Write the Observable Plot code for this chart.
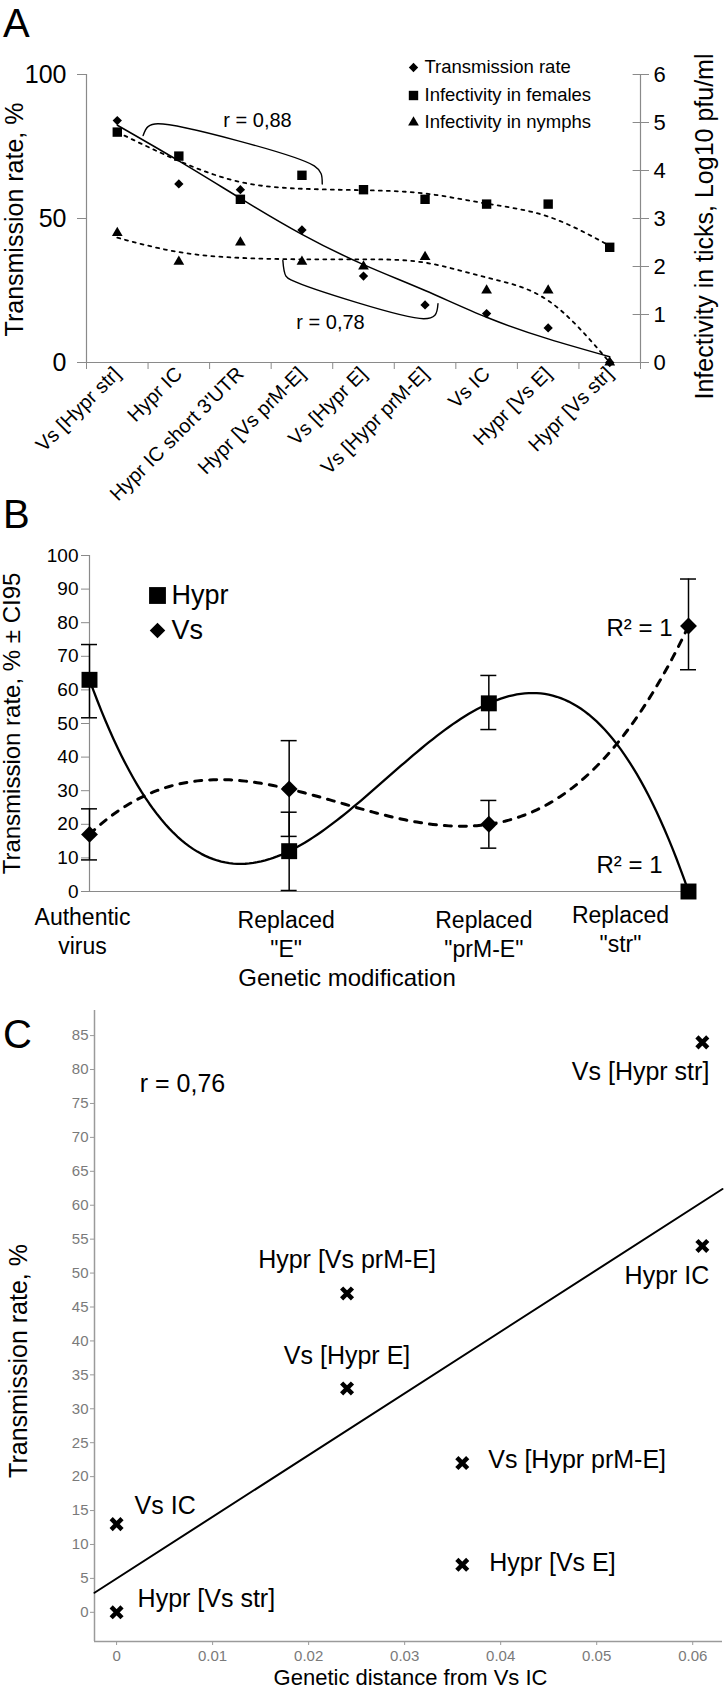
<!DOCTYPE html>
<html>
<head>
<meta charset="utf-8">
<script src="https://cdn.jsdelivr.net/npm/d3@7"></script>
<script src="https://cdn.jsdelivr.net/npm/@observablehq/plot@0.6"></script>
<style>
  html, body { margin: 0; padding: 0; background: #fff; }
  #wrap { position: relative; width: 727px; height: 1700px; background: #fff; overflow: hidden; }
  .panel { position: absolute; left: 0; }
  #letters { position: absolute; left: 0; top: 0; }
</style>
</head>
<body>
<div id="wrap">
  <div class="panel" id="pA" style="top:0px"></div>
  <div class="panel" id="pB" style="top:490px"></div>
  <div class="panel" id="pC" style="top:990px"></div>
  <svg id="letters" width="727" height="1700"></svg>
</div>
<script>
// ---------------- DATA ----------------
// Panel A
const strainsA = ["Vs [Hypr str]", "Hypr IC", "Hypr IC short 3'UTR", "Hypr [Vs prM-E]", "Vs [Hypr E]", "Vs [Hypr prM-E]", "Vs IC", "Hypr [Vs E]", "Hypr [Vs str]"];
const transmissionA = [84, 62, 60, 46, 30, 20, 17, 12, 0];          // %, left axis
const femalesA = [4.8, 4.3, 3.4, 3.9, 3.6, 3.4, 3.3, 3.3, 2.4];      // log10 pfu/ml, right axis
const nymphsA = [2.7, 2.1, 2.5, 2.1, 2.0, 2.2, 1.5, 1.5, 0];         // log10 pfu/ml, right axis
const transmissionTrendA = [82.4, 70, 57, 44.5, 34, 25, 15.7, 8.2, 2];
const femalesTrendA = [4.8, 4.2, 3.76, 3.62, 3.59, 3.52, 3.31, 3.04, 2.43];
const nymphsTrendA = [2.6, 2.3, 2.18, 2.15, 2.15, 2.08, 1.77, 1.29, 0];
const leftTicksA = [0, 50, 100];
const rightTicksA = [0, 1, 2, 3, 4, 5, 6];
const legendA = ["Transmission rate", "Infectivity in females", "Infectivity in nymphs"];
const rLabelsA = ["r = 0,88", "r = 0,78"];
// bracket outlines (x = category position, y = %)
const bracket88 = [[1.42, 78.8], [1.5, 81.9], [1.66, 82.9], [4.2, 68.3], [4.31, 65.6], [4.33, 62]];
const bracket78 = [[3.69, 35.4], [3.74, 30], [3.84, 28.5], [5.98, 15.2], [6.16, 16.4], [6.21, 20.4]];

// Panel B
const modificationsB = ["Authentic\nvirus", "Replaced\n\"E\"", "Replaced\n\"prM-E\"", "Replaced\n\"str\""];
const hyprB = [63, 12, 56, 0];
const hyprLowB = [51.7, 0.3, 48.2, 0];
const hyprHighB = [73.5, 23.6, 64.3, 0];
const vsB = [17, 30.5, 20, 79];
const vsLowB = [9.4, 16.4, 12.9, 66];
const vsHighB = [24.6, 44.9, 27.1, 93];
const yTicksB = [0, 10, 20, 30, 40, 50, 60, 70, 80, 90, 100];
const seriesB = ["Hypr", "Vs"];

// Panel C
const strainsC = ["Vs [Hypr str]", "Hypr IC", "Hypr [Vs prM-E]", "Vs [Hypr E]", "Vs [Hypr prM-E]", "Hypr [Vs E]", "Vs IC", "Hypr [Vs str]"];
const distanceC = [0.061, 0.061, 0.024, 0.024, 0.036, 0.036, 0, 0];
const rateC = [84, 54, 47, 33, 22, 7, 13, 0];
const yTicksC = [0, 5, 10, 15, 20, 25, 30, 35, 40, 45, 50, 55, 60, 65, 70, 75, 80, 85];
const xTicksC = [0, 0.01, 0.02, 0.03, 0.04, 0.05, 0.06];

// ---------------- LAYOUT ----------------
const FONT = '"Liberation Sans", Arial, Helvetica, sans-serif';
const AX = "#8a8a8a";

// ---------------- PANEL A ----------------
const nA = strainsA.length;
const kA = 100 / rightTicksA[rightTicksA.length - 1];
const rowsA = strainsA.map((name, j) => ({
  i: j + 1, name,
  t: transmissionA[j], f: femalesA[j] * kA, n: nymphsA[j] * kA,
  tt: transmissionTrendA[j], ft: femalesTrendA[j] * kA, nt: nymphsTrendA[j] * kA
}));
const edgesA = d3.range(nA + 1).map(j => j + 0.5);
const legendSymA = ["diamond2", "square", "triangle"];
const legendRA = [4.2, 5.3, 4];
const legendDyA = [-7, 21, 48];

const plotA = Plot.plot({
  width: 727, height: 490,
  marginLeft: 86, marginRight: 87, marginTop: 74, marginBottom: 128,
  x: {domain: [0.5, nA + 0.5], axis: null},
  y: {domain: [0, 100], axis: null},
  style: {fontFamily: FONT, background: "transparent", overflow: "visible", color: "#000"},
  marks: [
    Plot.ruleY([0], {x1: 0.5, x2: nA + 0.5, stroke: AX, strokeWidth: 1.2}),
    Plot.ruleX([0.5, nA + 0.5], {y1: 0, y2: 100, stroke: AX, strokeWidth: 1.2}),
    Plot.axisX({ticks: edgesA, tickFormat: () => "", tickSize: 7, stroke: AX, label: null}),
    Plot.axisX({ticks: rowsA.map(d => d.i), tickFormat: i => strainsA[i - 1], tickSize: 0, tickRotate: -45, tickPadding: 8, fontSize: 20, label: null}),
    Plot.axisY({ticks: leftTicksA, tickSize: 9, tickPadding: 11, fontSize: 25, stroke: AX, label: null}),
    Plot.axisY({anchor: "right", ticks: rightTicksA.map(v => v * kA), tickFormat: v => String(Math.round(v / kA)), tickSize: 8, tickPadding: 5, fontSize: 22, stroke: AX, label: null}),
    Plot.ruleY(rightTicksA.map(v => v * kA), {x1: nA + 0.5 - 0.12, x2: nA + 0.5, stroke: AX}),
    // trend lines
    Plot.line(rowsA, {x: "i", y: "ft", curve: "natural", stroke: "#000", strokeWidth: 1.8, strokeDasharray: "3,5"}),
    Plot.line(rowsA, {x: "i", y: "nt", curve: "natural", stroke: "#000", strokeWidth: 1.8, strokeDasharray: "3,5"}),
    Plot.line(rowsA, {x: "i", y: "tt", curve: "natural", stroke: "#000", strokeWidth: 1.5}),
    // brackets
    Plot.line(bracket88, {x: d => d[0], y: d => d[1], curve: "catmull-rom", stroke: "#000", strokeWidth: 1.4}),
    Plot.line(bracket78, {x: d => d[0], y: d => d[1], curve: "catmull-rom", stroke: "#000", strokeWidth: 1.4}),
    Plot.text([rLabelsA[0]], {frameAnchor: "top-left", textAnchor: "middle", lineAnchor: "middle", dx: 171, dy: 46, fontSize: 20}),
    Plot.text([rLabelsA[1]], {frameAnchor: "top-left", textAnchor: "middle", lineAnchor: "middle", dx: 244, dy: 248, fontSize: 20}),
    // points
    Plot.dot(rowsA, {x: "i", y: "f", symbol: "square", r: 5.3, fill: "#000"}),
    Plot.dot(rowsA, {x: "i", y: "n", symbol: "triangle", r: 4, fill: "#000"}),
    Plot.dot(rowsA, {x: "i", y: "t", symbol: "diamond2", r: 4.2, fill: "#000"}),
    // axis titles
    Plot.text(["Transmission rate, %"], {frameAnchor: "left", textAnchor: "middle", lineAnchor: "middle", rotate: -90, dx: -72, dy: 1, fontSize: 25}),
    Plot.text(["Infectivity in ticks, Log10 pfu/ml"], {frameAnchor: "right", textAnchor: "middle", lineAnchor: "middle", rotate: -90, dx: 64, dy: 8, fontSize: 25}),
    // legend
    ...legendA.map((lab, j) => Plot.dot([lab], {frameAnchor: "top-left", dx: 327, dy: legendDyA[j], symbol: legendSymA[j], r: legendRA[j], fill: "#000"})),
    ...legendA.map((lab, j) => Plot.text([lab], {frameAnchor: "top-left", dx: 338, dy: legendDyA[j], textAnchor: "start", lineAnchor: "middle", fontSize: 18.5}))
  ]
});
document.getElementById("pA").appendChild(plotA);

// ---------------- PANEL B ----------------
const xsB = modificationsB.map((_, j) => j);
function lagrange(xs, ys, x) {
  let s = 0;
  for (let a = 0; a < xs.length; a++) {
    let p = ys[a];
    for (let b = 0; b < xs.length; b++) if (b !== a) p *= (x - xs[b]) / (xs[a] - xs[b]);
    s += p;
  }
  return s;
}
const fitB = ys => d3.range(0, xsB.length - 1 + 1e-9, 0.02).map(x => ({x, y: lagrange(xsB, ys, x)}));
const hyprRows = xsB.map(j => ({x: j, y: hyprB[j], lo: hyprLowB[j], hi: hyprHighB[j]}));
const vsRows = xsB.map(j => ({x: j, y: vsB[j], lo: vsLowB[j], hi: vsHighB[j]}));
const errRows = hyprRows.concat(vsRows).filter(d => d.hi > d.lo);
const catDxB = [-7, -3, -5, -68];
const catDyB = [39, 42, 42, 37];

const plotB = Plot.plot({
  width: 727, height: 500,
  marginLeft: 89, marginRight: 39, marginTop: 65, marginBottom: 99,
  x: {domain: [0, xsB.length - 1], axis: null},
  y: {domain: [0, 100], axis: null},
  style: {fontFamily: FONT, background: "transparent", overflow: "visible", color: "#000"},
  marks: [
    Plot.ruleY([0], {x1: 0, x2: xsB.length - 1, stroke: AX, strokeWidth: 1.2}),
    Plot.ruleX([0], {y1: 0, y2: 100, stroke: AX, strokeWidth: 1.2}),
    Plot.axisY({ticks: yTicksB, tickSize: 8, tickPadding: 3, fontSize: 19, stroke: AX, label: null}),
    ...modificationsB.map((lab, j) => Plot.text([lab], {x: xsB[j], frameAnchor: "bottom", textAnchor: "middle", lineAnchor: "middle", dx: catDxB[j], dy: catDyB[j], fontSize: 23, lineHeight: 1.22})),
    Plot.text(["Genetic modification"], {frameAnchor: "bottom", textAnchor: "middle", lineAnchor: "middle", dx: -42, dy: 87, fontSize: 24}),
    Plot.text(["Transmission rate, % \u00b1 CI95"], {frameAnchor: "left", textAnchor: "middle", lineAnchor: "middle", rotate: -90, dx: -77, dy: 0, fontSize: 24}),
    // error bars
    Plot.ruleX(errRows, {x: "x", y1: "lo", y2: "hi", stroke: "#000", strokeWidth: 1.5}),
    Plot.ruleY(errRows, {y: "lo", x1: d => d.x - 0.04, x2: d => d.x + 0.04, stroke: "#000", strokeWidth: 1.5}),
    Plot.ruleY(errRows, {y: "hi", x1: d => d.x - 0.04, x2: d => d.x + 0.04, stroke: "#000", strokeWidth: 1.5}),
    // polynomial trend lines (through the four points)
    Plot.line(fitB(vsB), {x: "x", y: "y", stroke: "#000", strokeWidth: 3, strokeDasharray: "7,8"}),
    Plot.line(fitB(hyprB), {x: "x", y: "y", stroke: "#000", strokeWidth: 2.3}),
    Plot.dot(hyprRows, {x: "x", y: "y", symbol: "square", r: 9, fill: "#000"}),
    Plot.dot(vsRows, {x: "x", y: "y", symbol: "diamond2", r: 7.6, fill: "#000"}),
    Plot.text(["R\u00b2 = 1"], {x: 3, y: vsB[3], textAnchor: "end", dx: -16, dy: 2, fontSize: 24}),
    Plot.text(["R\u00b2 = 1"], {x: 3, y: hyprB[3], textAnchor: "end", dx: -26, dy: -26, fontSize: 24}),
    // legend
    Plot.dot([seriesB[0]], {frameAnchor: "top-left", dx: 68, dy: 40, symbol: "square", r: 9.5, fill: "#000"}),
    Plot.dot([seriesB[1]], {frameAnchor: "top-left", dx: 68, dy: 75, symbol: "diamond2", r: 7, fill: "#000"}),
    Plot.text([seriesB[0]], {frameAnchor: "top-left", dx: 82, dy: 40, textAnchor: "start", lineAnchor: "middle", fontSize: 27}),
    Plot.text([seriesB[1]], {frameAnchor: "top-left", dx: 82, dy: 75, textAnchor: "start", lineAnchor: "middle", fontSize: 27})
  ]
});
document.getElementById("pB").appendChild(plotB);

// ---------------- PANEL C ----------------
const rowsC = strainsC.map((name, j) => ({name, x: distanceC[j], y: rateC[j]}));
const mx = d3.mean(distanceC), my = d3.mean(rateC);
const slope = d3.sum(rowsC, d => (d.x - mx) * (d.y - my)) / d3.sum(rowsC, d => (d.x - mx) ** 2);
const icpt = my - slope * mx;
const xDomC = [-0.0023, 0.0631];
const yDomC = [-4.3, 88.7];
const fitC = xDomC.map(x => ({x, y: icpt + slope * x}));
const placeC = [
  {anchor: "end", dx: 7, dy: 30},
  {anchor: "end", dx: 7, dy: 30},
  {anchor: "middle", dx: 0, dy: -33},
  {anchor: "middle", dx: 0, dy: -32},
  {anchor: "start", dx: 26, dy: -3},
  {anchor: "start", dx: 27, dy: -2},
  {anchor: "start", dx: 18, dy: -18},
  {anchor: "start", dx: 21, dy: -13}
];

const plotC = Plot.plot({
  width: 727, height: 710,
  marginLeft: 94, marginRight: 5, marginTop: 20, marginBottom: 59,
  x: {domain: xDomC, axis: null},
  y: {domain: yDomC, axis: null},
  style: {fontFamily: FONT, background: "transparent", overflow: "visible", color: "#000"},
  marks: [
    Plot.ruleX([xDomC[0]], {y1: yDomC[0], y2: yDomC[1], stroke: "#9a9a9a", strokeWidth: 1.5}),
    Plot.ruleY([yDomC[0]], {x1: xDomC[0], x2: xDomC[1], stroke: "#9a9a9a", strokeWidth: 1.5}),
    Plot.axisY({ticks: yTicksC, tickSize: 4, tickPadding: 2, fontSize: 15, stroke: "#9a9a9a", fill: "#7a7a7a", label: null}),
    Plot.axisX({ticks: xTicksC, tickFormat: d => d === 0 ? "0" : d.toFixed(2), tickSize: 4, tickPadding: 5, fontSize: 15, stroke: "#9a9a9a", fill: "#7a7a7a", label: null}),
    Plot.line(fitC, {x: "x", y: "y", stroke: "#000", strokeWidth: 2}),
    Plot.dot(rowsC, {x: "x", y: "y", symbol: "times", r: 5, stroke: "#000", strokeWidth: 4.5}),
    ...rowsC.map((d, j) => Plot.text([d], {x: "x", y: "y", text: "name", textAnchor: placeC[j].anchor, lineAnchor: "middle", dx: placeC[j].dx, dy: placeC[j].dy, fontSize: 25})),
    Plot.text(["r = 0,76"], {frameAnchor: "top-left", textAnchor: "middle", lineAnchor: "middle", dx: 88, dy: 73, fontSize: 25}),
    Plot.text(["Transmission rate, %"], {frameAnchor: "left", textAnchor: "middle", lineAnchor: "middle", rotate: -90, dx: -76, dy: 35, fontSize: 25}),
    Plot.text(["Genetic distance from Vs IC"], {frameAnchor: "bottom", textAnchor: "middle", lineAnchor: "middle", dx: 2, dy: 36, fontSize: 22})
  ]
});
document.getElementById("pC").appendChild(plotC);

// ---------------- PANEL LETTERS ----------------
const letters = [{t: "A", y: 37}, {t: "B", y: 528}, {t: "C", y: 1048}];
const lsvg = d3.select("#letters");
lsvg.selectAll("text").data(letters).join("text")
  .attr("x", 3).attr("y", d => d.y)
  .attr("font-family", FONT).attr("font-size", 40).attr("fill", "#000")
  .text(d => d.t);
</script>
</body>
</html>
